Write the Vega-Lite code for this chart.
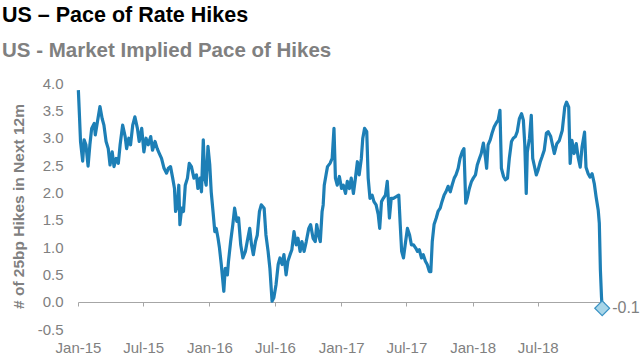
{
  "$schema": "https://vega.github.io/schema/vega-lite/v6.json",
  "autosize": {"type": "none"},
  "padding": {"left": 78, "top": 83, "right": 36, "bottom": 31},
  "width": 526,
  "height": 246,
  "background": "#ffffff",
  "config": {
    "view": {"stroke": null},
    "font": "Liberation Sans",
    "locale": {"number": {"decimal": ".", "thousands": ",", "grouping": [3], "currency": ["$", ""], "minus": "-"}}
  },
  "title": {
    "text": "US – Pace of Rate Hikes",
    "subtitle": "US - Market Implied Pace of Hikes",
    "anchor": "start",
    "frame": "group",
    "dx": -76,
    "offset": 15,
    "font": "Liberation Sans",
    "fontSize": 21.5,
    "fontWeight": "bold",
    "color": "#000000",
    "subtitleFont": "Liberation Sans",
    "subtitleFontSize": 20.5,
    "subtitleFontWeight": "bold",
    "subtitleColor": "#808080",
    "subtitlePadding": 14
  },
  "data": {"values": [
    {"date": "2015-01-02", "value": 3.87},
    {"date": "2015-01-05", "value": 3.41},
    {"date": "2015-01-08", "value": 2.93},
    {"date": "2015-01-14", "value": 2.57},
    {"date": "2015-01-18", "value": 2.96},
    {"date": "2015-01-23", "value": 2.87},
    {"date": "2015-01-29", "value": 2.48},
    {"date": "2015-02-03", "value": 2.87},
    {"date": "2015-02-08", "value": 3.17},
    {"date": "2015-02-15", "value": 3.26},
    {"date": "2015-02-18", "value": 3.05},
    {"date": "2015-02-24", "value": 3.29},
    {"date": "2015-03-03", "value": 3.57},
    {"date": "2015-03-09", "value": 3.35},
    {"date": "2015-03-14", "value": 3.23},
    {"date": "2015-03-20", "value": 2.93},
    {"date": "2015-03-26", "value": 2.80},
    {"date": "2015-03-31", "value": 2.50},
    {"date": "2015-04-06", "value": 2.74},
    {"date": "2015-04-11", "value": 2.47},
    {"date": "2015-04-17", "value": 2.62},
    {"date": "2015-04-23", "value": 2.53},
    {"date": "2015-04-28", "value": 2.87},
    {"date": "2015-05-05", "value": 3.23},
    {"date": "2015-05-12", "value": 3.02},
    {"date": "2015-05-16", "value": 2.80},
    {"date": "2015-05-22", "value": 2.99},
    {"date": "2015-05-27", "value": 2.87},
    {"date": "2015-06-02", "value": 3.23},
    {"date": "2015-06-08", "value": 3.38},
    {"date": "2015-06-15", "value": 3.17},
    {"date": "2015-06-20", "value": 2.93},
    {"date": "2015-06-27", "value": 3.17},
    {"date": "2015-07-03", "value": 2.74},
    {"date": "2015-07-09", "value": 2.99},
    {"date": "2015-07-15", "value": 2.87},
    {"date": "2015-07-22", "value": 3.02},
    {"date": "2015-07-27", "value": 2.77},
    {"date": "2015-08-03", "value": 2.93},
    {"date": "2015-08-09", "value": 2.80},
    {"date": "2015-08-15", "value": 2.71},
    {"date": "2015-08-21", "value": 2.62},
    {"date": "2015-08-28", "value": 2.44},
    {"date": "2015-09-04", "value": 2.35},
    {"date": "2015-09-09", "value": 2.44},
    {"date": "2015-09-15", "value": 2.47},
    {"date": "2015-09-21", "value": 2.26},
    {"date": "2015-09-26", "value": 2.07},
    {"date": "2015-09-29", "value": 1.65},
    {"date": "2015-10-04", "value": 1.77},
    {"date": "2015-10-08", "value": 2.13},
    {"date": "2015-10-11", "value": 1.41},
    {"date": "2015-10-16", "value": 1.71},
    {"date": "2015-10-21", "value": 1.65},
    {"date": "2015-10-26", "value": 2.13},
    {"date": "2015-11-01", "value": 2.26},
    {"date": "2015-11-06", "value": 2.53},
    {"date": "2015-11-12", "value": 2.47},
    {"date": "2015-11-19", "value": 2.26},
    {"date": "2015-11-26", "value": 2.32},
    {"date": "2015-11-30", "value": 2.07},
    {"date": "2015-12-06", "value": 2.26},
    {"date": "2015-12-10", "value": 2.01},
    {"date": "2015-12-15", "value": 2.96},
    {"date": "2015-12-19", "value": 2.26},
    {"date": "2015-12-23", "value": 2.13},
    {"date": "2015-12-28", "value": 2.84},
    {"date": "2016-01-02", "value": 2.50},
    {"date": "2016-01-06", "value": 2.01},
    {"date": "2016-01-11", "value": 1.65},
    {"date": "2016-01-16", "value": 1.28},
    {"date": "2016-01-20", "value": 1.34},
    {"date": "2016-01-25", "value": 1.16},
    {"date": "2016-01-29", "value": 0.98},
    {"date": "2016-02-03", "value": 0.68},
    {"date": "2016-02-10", "value": 0.19},
    {"date": "2016-02-14", "value": 0.61},
    {"date": "2016-02-20", "value": 0.49},
    {"date": "2016-02-23", "value": 0.74},
    {"date": "2016-02-29", "value": 1.10},
    {"date": "2016-03-06", "value": 1.41},
    {"date": "2016-03-11", "value": 1.71},
    {"date": "2016-03-17", "value": 1.47},
    {"date": "2016-03-22", "value": 1.53},
    {"date": "2016-03-28", "value": 1.04},
    {"date": "2016-04-03", "value": 0.80},
    {"date": "2016-04-10", "value": 0.92},
    {"date": "2016-04-15", "value": 1.10},
    {"date": "2016-04-22", "value": 1.34},
    {"date": "2016-04-27", "value": 1.04},
    {"date": "2016-05-02", "value": 0.86},
    {"date": "2016-05-08", "value": 1.10},
    {"date": "2016-05-13", "value": 1.22},
    {"date": "2016-05-19", "value": 1.65},
    {"date": "2016-05-24", "value": 1.77},
    {"date": "2016-06-01", "value": 1.71},
    {"date": "2016-06-06", "value": 1.22},
    {"date": "2016-06-12", "value": 0.92},
    {"date": "2016-06-17", "value": 0.61},
    {"date": "2016-06-23", "value": 0.01},
    {"date": "2016-06-28", "value": 0.07},
    {"date": "2016-07-04", "value": 0.31},
    {"date": "2016-07-10", "value": 0.68},
    {"date": "2016-07-15", "value": 0.80},
    {"date": "2016-07-21", "value": 0.68},
    {"date": "2016-07-26", "value": 0.86},
    {"date": "2016-08-01", "value": 0.49},
    {"date": "2016-08-06", "value": 0.74},
    {"date": "2016-08-12", "value": 0.86},
    {"date": "2016-08-17", "value": 0.95},
    {"date": "2016-08-23", "value": 1.28},
    {"date": "2016-08-29", "value": 1.04},
    {"date": "2016-09-03", "value": 1.16},
    {"date": "2016-09-09", "value": 0.92},
    {"date": "2016-09-14", "value": 1.10},
    {"date": "2016-09-20", "value": 0.92},
    {"date": "2016-09-26", "value": 1.10},
    {"date": "2016-10-03", "value": 1.34},
    {"date": "2016-10-08", "value": 1.41},
    {"date": "2016-10-15", "value": 1.16},
    {"date": "2016-10-21", "value": 1.10},
    {"date": "2016-10-25", "value": 1.41},
    {"date": "2016-10-30", "value": 1.22},
    {"date": "2016-11-04", "value": 1.10},
    {"date": "2016-11-09", "value": 1.65},
    {"date": "2016-11-12", "value": 1.77},
    {"date": "2016-11-15", "value": 2.13},
    {"date": "2016-11-20", "value": 2.32},
    {"date": "2016-11-24", "value": 2.47},
    {"date": "2016-12-01", "value": 2.53},
    {"date": "2016-12-07", "value": 2.62},
    {"date": "2016-12-12", "value": 3.17},
    {"date": "2016-12-16", "value": 2.26},
    {"date": "2016-12-21", "value": 2.13},
    {"date": "2016-12-27", "value": 2.29},
    {"date": "2017-01-02", "value": 2.07},
    {"date": "2017-01-07", "value": 2.13},
    {"date": "2017-01-13", "value": 1.98},
    {"date": "2017-01-18", "value": 2.20},
    {"date": "2017-01-24", "value": 2.07},
    {"date": "2017-01-29", "value": 2.26},
    {"date": "2017-02-04", "value": 1.98},
    {"date": "2017-02-09", "value": 2.23},
    {"date": "2017-02-15", "value": 2.56},
    {"date": "2017-02-20", "value": 2.32},
    {"date": "2017-02-26", "value": 2.62},
    {"date": "2017-03-02", "value": 2.99},
    {"date": "2017-03-07", "value": 3.17},
    {"date": "2017-03-13", "value": 3.11},
    {"date": "2017-03-17", "value": 2.26},
    {"date": "2017-03-22", "value": 1.89},
    {"date": "2017-03-28", "value": 1.95},
    {"date": "2017-04-02", "value": 1.83},
    {"date": "2017-04-08", "value": 1.77},
    {"date": "2017-04-14", "value": 1.59},
    {"date": "2017-04-18", "value": 1.34},
    {"date": "2017-04-23", "value": 1.83},
    {"date": "2017-04-28", "value": 1.89},
    {"date": "2017-05-04", "value": 1.95},
    {"date": "2017-05-09", "value": 2.20},
    {"date": "2017-05-15", "value": 1.53},
    {"date": "2017-05-20", "value": 1.89},
    {"date": "2017-05-26", "value": 1.89},
    {"date": "2017-06-03", "value": 1.92},
    {"date": "2017-06-10", "value": 1.95},
    {"date": "2017-06-14", "value": 1.41},
    {"date": "2017-06-18", "value": 0.92},
    {"date": "2017-06-23", "value": 0.80},
    {"date": "2017-06-29", "value": 1.10},
    {"date": "2017-07-04", "value": 1.34},
    {"date": "2017-07-10", "value": 1.22},
    {"date": "2017-07-15", "value": 1.04},
    {"date": "2017-07-21", "value": 1.04},
    {"date": "2017-07-27", "value": 0.98},
    {"date": "2017-08-01", "value": 0.92},
    {"date": "2017-08-06", "value": 0.95},
    {"date": "2017-08-12", "value": 0.80},
    {"date": "2017-08-17", "value": 0.86},
    {"date": "2017-08-23", "value": 0.74},
    {"date": "2017-08-28", "value": 0.68},
    {"date": "2017-09-03", "value": 0.55},
    {"date": "2017-09-07", "value": 0.55},
    {"date": "2017-09-11", "value": 1.10},
    {"date": "2017-09-16", "value": 1.41},
    {"date": "2017-09-22", "value": 1.53},
    {"date": "2017-09-27", "value": 1.65},
    {"date": "2017-10-03", "value": 1.71},
    {"date": "2017-10-08", "value": 1.83},
    {"date": "2017-10-14", "value": 1.95},
    {"date": "2017-10-19", "value": 2.01},
    {"date": "2017-10-25", "value": 2.11},
    {"date": "2017-10-31", "value": 2.01},
    {"date": "2017-11-05", "value": 2.13},
    {"date": "2017-11-11", "value": 2.26},
    {"date": "2017-11-16", "value": 2.32},
    {"date": "2017-11-22", "value": 2.44},
    {"date": "2017-11-27", "value": 2.62},
    {"date": "2017-12-03", "value": 2.74},
    {"date": "2017-12-08", "value": 2.80},
    {"date": "2017-12-13", "value": 1.80},
    {"date": "2017-12-17", "value": 1.89},
    {"date": "2017-12-23", "value": 2.07},
    {"date": "2017-12-29", "value": 2.20},
    {"date": "2018-01-03", "value": 2.26},
    {"date": "2018-01-09", "value": 2.32},
    {"date": "2018-01-14", "value": 2.50},
    {"date": "2018-01-20", "value": 2.62},
    {"date": "2018-01-25", "value": 2.71},
    {"date": "2018-01-31", "value": 2.90},
    {"date": "2018-02-06", "value": 2.62},
    {"date": "2018-02-09", "value": 2.44},
    {"date": "2018-02-13", "value": 2.87},
    {"date": "2018-02-19", "value": 2.96},
    {"date": "2018-02-24", "value": 3.08},
    {"date": "2018-03-02", "value": 3.20},
    {"date": "2018-03-07", "value": 3.26},
    {"date": "2018-03-13", "value": 3.32},
    {"date": "2018-03-18", "value": 3.50},
    {"date": "2018-03-22", "value": 2.44},
    {"date": "2018-03-28", "value": 2.29},
    {"date": "2018-04-02", "value": 2.23},
    {"date": "2018-04-08", "value": 2.26},
    {"date": "2018-04-13", "value": 2.62},
    {"date": "2018-04-19", "value": 2.93},
    {"date": "2018-04-24", "value": 2.99},
    {"date": "2018-04-30", "value": 3.02},
    {"date": "2018-05-05", "value": 3.11},
    {"date": "2018-05-11", "value": 3.35},
    {"date": "2018-05-17", "value": 3.44},
    {"date": "2018-05-22", "value": 3.32},
    {"date": "2018-05-26", "value": 2.87},
    {"date": "2018-05-30", "value": 1.98},
    {"date": "2018-06-02", "value": 2.74},
    {"date": "2018-06-08", "value": 2.99},
    {"date": "2018-06-13", "value": 3.41},
    {"date": "2018-06-17", "value": 2.62},
    {"date": "2018-06-21", "value": 2.50},
    {"date": "2018-06-27", "value": 2.32},
    {"date": "2018-07-02", "value": 2.41},
    {"date": "2018-07-08", "value": 2.56},
    {"date": "2018-07-13", "value": 2.65},
    {"date": "2018-07-19", "value": 2.77},
    {"date": "2018-07-25", "value": 3.08},
    {"date": "2018-07-30", "value": 3.11},
    {"date": "2018-08-06", "value": 3.02},
    {"date": "2018-08-16", "value": 2.71},
    {"date": "2018-08-23", "value": 2.89},
    {"date": "2018-08-30", "value": 2.95},
    {"date": "2018-09-07", "value": 3.13},
    {"date": "2018-09-14", "value": 3.56},
    {"date": "2018-09-19", "value": 3.65},
    {"date": "2018-09-25", "value": 3.56},
    {"date": "2018-09-29", "value": 2.53},
    {"date": "2018-10-04", "value": 2.95},
    {"date": "2018-10-10", "value": 2.71},
    {"date": "2018-10-16", "value": 2.89},
    {"date": "2018-10-21", "value": 2.65},
    {"date": "2018-10-27", "value": 2.46},
    {"date": "2018-11-01", "value": 2.83},
    {"date": "2018-11-08", "value": 3.10},
    {"date": "2018-11-12", "value": 2.46},
    {"date": "2018-11-18", "value": 2.34},
    {"date": "2018-11-23", "value": 2.28},
    {"date": "2018-11-29", "value": 2.34},
    {"date": "2018-12-05", "value": 2.16},
    {"date": "2018-12-10", "value": 1.92},
    {"date": "2018-12-16", "value": 1.67},
    {"date": "2018-12-19", "value": 1.43},
    {"date": "2018-12-22", "value": 0.58},
    {"date": "2018-12-25", "value": 0.09},
    {"date": "2018-12-27", "value": -0.12}
  ]},
  "encoding": {
    "x": {
      "field": "date",
      "type": "temporal",
      "scale": {"domain": [{"year": 2015, "month": 1, "date": 1}, {"year": 2019, "month": 1, "date": 1}]},
      "axis": {
        "title": null,
        "grid": false,
        "values": [
          {"year": 2015, "month": 1, "date": 1},
          {"year": 2015, "month": 7, "date": 1},
          {"year": 2016, "month": 1, "date": 1},
          {"year": 2016, "month": 7, "date": 1},
          {"year": 2017, "month": 1, "date": 1},
          {"year": 2017, "month": 7, "date": 1},
          {"year": 2018, "month": 1, "date": 1},
          {"year": 2018, "month": 7, "date": 1},
          {"year": 2019, "month": 1, "date": 1}
        ],
        "format": "%b-%y",
        "labelExpr": "year(datum.value) >= 2019 ? '' : datum.label",
        "offset": -27,
        "domainColor": "#a6a6a6",
        "tickColor": "#a6a6a6",
        "tickSize": 4,
        "labelPadding": 34,
        "labelFont": "Liberation Sans",
        "labelFontSize": 15,
        "labelColor": "#808080",
        "labelFlush": false,
        "labelOverlap": false
      }
    },
    "y": {
      "field": "value",
      "type": "quantitative",
      "scale": {"domain": [-0.5, 4.0], "nice": false, "zero": false},
      "axis": {
        "title": "# of 25bp Hikes in Next 12m",
        "titleFont": "Liberation Sans",
        "titleFontSize": 15.5,
        "titleFontWeight": "bold",
        "titleColor": "#808080",
        "titlePadding": 11,
        "values": [-0.5, 0, 0.5, 1, 1.5, 2, 2.5, 3, 3.5, 4],
        "format": ".1f",
        "domain": false,
        "ticks": false,
        "grid": false,
        "labelPadding": 15,
        "labelFont": "Liberation Sans",
        "labelFontSize": 15,
        "labelColor": "#808080"
      }
    }
  },
  "layer": [
    {
      "mark": {"type": "line", "color": "#1d7fb6", "strokeWidth": 3.2, "strokeJoin": "round", "clip": false}
    },
    {
      "transform": [{"filter": "datum.value < 0"}],
      "mark": {"type": "point", "shape": "diamond", "size": 220, "filled": true, "fill": "#a8d5e8", "stroke": "#3b93c4", "strokeWidth": 1.2, "opacity": 1}
    },
    {
      "transform": [{"filter": "datum.value < 0"}],
      "mark": {"type": "text", "align": "left", "baseline": "middle", "dx": 10, "fontSize": 16, "font": "Liberation Sans", "color": "#808080"},
      "encoding": {"text": {"field": "value", "type": "quantitative", "format": ".1f"}}
    }
  ]
}
